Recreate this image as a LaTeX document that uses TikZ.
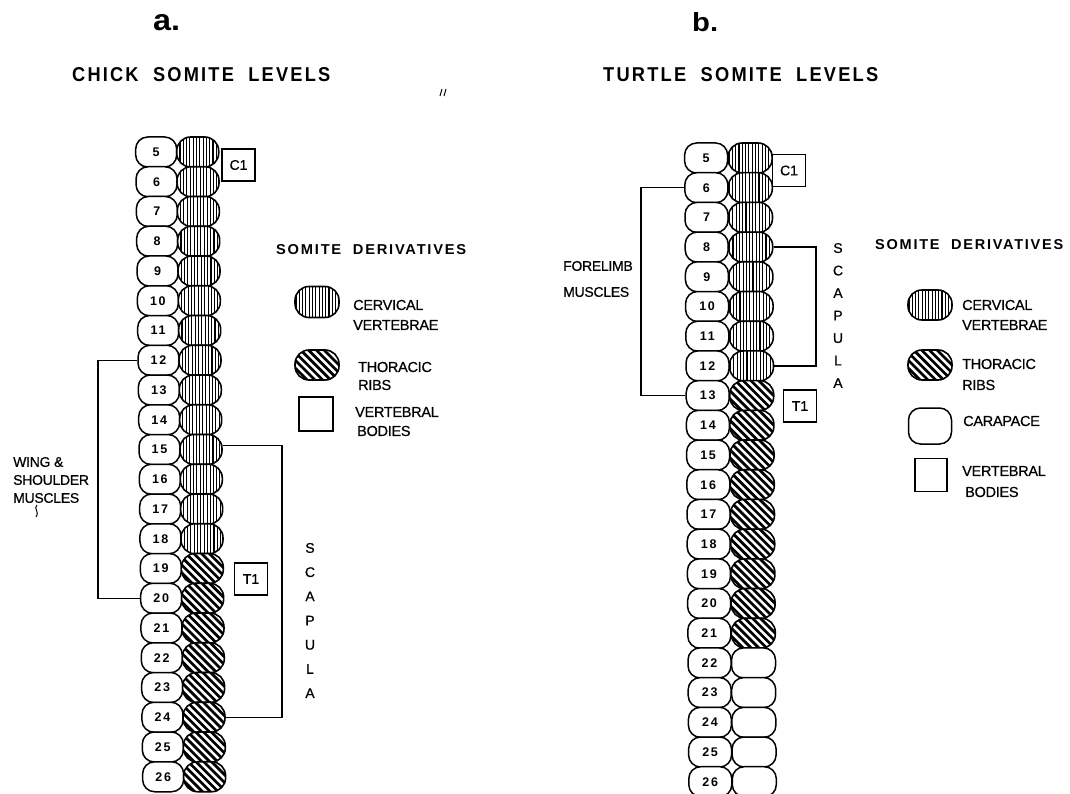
\documentclass[tikz,border=0pt]{standalone}
\usepackage{fontspec}
\usepackage{graphicx}
\setmainfont{Liberation Sans}
\newfontfamily\numfont[LetterSpace=14]{Liberation Sans}
\newfontfamily\labfont[LetterSpace=-2,FakeBold=0.6]{Liberation Sans}
\newfontfamily\plainfont[FakeBold=0.6]{Liberation Sans}
\newfontfamily\headfont[LetterSpace=12]{Liberation Sans}
\tikzset{
  ov/.style={draw, line width=1.5pt, rounded corners=12pt, minimum width=41pt, minimum height=30pt, inner sep=0pt, fill=white, font=\numfont\bfseries\fontsize{12.5}{12.5}\selectfont},
  hov/.style={draw, line width=1.6pt, rounded corners=14pt, minimum width=42pt, minimum height=30pt, inner sep=0pt, fill=white},
  cerv/.style={hov, path picture={\foreach \k in {-21,-17.7,...,21}{\draw[line width=1.05pt] (path picture bounding box.center) ++(\k,-20) -- ++(0,40);}}},
  thor/.style={hov, path picture={\foreach \k in {-56,-48.2,...,56}{\draw[line width=2.7pt] (path picture bounding box.center) ++(\k-25,-25) -- ++(50,50);}}},
  lbox/.style={draw, line width=1.2pt, minimum width=33pt, minimum height=32pt, inner sep=0pt, font=\plainfont\fontsize{14}{14}\selectfont},
  conn/.style={line width=1.3pt},
  lab/.style={anchor=west, inner sep=0pt, font=\labfont\fontsize{14.5}{14.5}\selectfont},
  txt/.style={inner sep=0pt},
}
\begin{document}
\begin{tikzpicture}[x=1pt,y=-1pt]
\useasboundingbox[fill=white] (0,0) rectangle (1070,794);

% ---------- panel a ----------
\node[txt,anchor=west] (la) at (153,23) {\resizebox{27pt}{16pt}{\bfseries a.}};
\node[txt,anchor=west] (ta) at (72,75) {\resizebox{258pt}{14pt}{\headfont\bfseries CHICK\ \ SOMITE\ \ LEVELS}};
\draw[line width=1pt] (442,89) -- (440,96) (446,89) -- (444,96);

\foreach \r in {5,...,26} {
  \pgfmathsetmacro\yy{152+(\r-5)*29.75}
  \pgfmathsetmacro\xx{156.2+(\r-5)*0.33}
  \node[ov] (cw\r) at (\xx,\yy) {\r};
}
\foreach \r in {5,...,18} {
  \pgfmathsetmacro\yy{152+(\r-5)*29.75}
  \pgfmathsetmacro\xx{197.7+(\r-5)*0.33}
  \node[cerv] (ch\r) at (\xx,\yy) {};
}
\foreach \r in {19,...,26} {
  \pgfmathsetmacro\yy{152+(\r-5)*29.75}
  \pgfmathsetmacro\xx{197.7+(\r-5)*0.33}
  \node[thor] (ch\r) at (\xx,\yy) {};
}
\node[lbox] (c1a) at (238.5,165) {C1};
\node[lbox] (t1a) at (251,579) {T1};

\coordinate (scx) at (282,0);
\draw[conn] ([yshift=4pt]ch15.east) -| (scx |- ch24.east) -- (ch24.east);
\node[txt, align=center, font=\plainfont\fontsize{14}{24.2}\selectfont] (sca) at (310,620.5) {S\\C\\A\\P\\U\\L\\A};

\coordinate (wingx) at (98,0);
\draw[conn] (cw12.west) -| (wingx |- cw20.west) -- (cw20.west);
\node[txt, anchor=west, align=left, font=\labfont\fontsize{14}{18}\selectfont] (wing) at (13,480) {WING \&\\SHOULDER\\MUSCLES};
\draw[line width=1pt] (37,505) .. controls (33,509) and (40,511) .. (36,517);

\node[txt,anchor=west] (sda) at (276,250) {\resizebox{190pt}{10pt}{\headfont\bfseries SOMITE\ \ DERIVATIVES}};
\node[cerv, minimum width=44pt, minimum height=31pt] (lca) at (317,302) {};
\node[lab] (lcat) at (353,305) {CERVICAL};
\node[lab] (lcab) at (353,325) {VERTEBRAE};
\node[thor, minimum width=44pt, minimum height=30pt] (lta) at (317,365) {};
\node[lab] (ltat) at (358,367) {THORACIC};
\node[lab] (ltab) at (358,385) {RIBS};
\node[lbox, minimum width=34pt, minimum height=34pt] (lva) at (316,414) {};
\node[lab] (lvat) at (355,412) {VERTEBRAL};
\node[lab] (lvab) at (357,431) {BODIES};

% ---------- panel b ----------
\node[txt,anchor=west] (lb) at (692,22) {\resizebox{26pt}{19pt}{\bfseries b.}};
\node[txt,anchor=west] (tb) at (603,75) {\resizebox{275pt}{14pt}{\headfont\bfseries TURTLE\ \ SOMITE\ \ LEVELS}};

\foreach \r in {5,...,26} {
  \pgfmathsetmacro\yy{158+(\r-5)*29.7}
  \pgfmathsetmacro\xx{706.1+(\r-5)*0.2}
  \node[ov, minimum width=43pt] (tw\r) at (\xx,\yy) {\r};
}
\foreach \r in {5,...,12} {
  \pgfmathsetmacro\yy{158+(\r-5)*29.7}
  \pgfmathsetmacro\xx{750.1+(\r-5)*0.2}
  \node[cerv, minimum width=44pt] (th\r) at (\xx,\yy) {};
}
\foreach \r in {13,...,21} {
  \pgfmathsetmacro\yy{158+(\r-5)*29.7}
  \pgfmathsetmacro\xx{750.1+(\r-5)*0.2}
  \node[thor, minimum width=44pt] (th\r) at (\xx,\yy) {};
}
\foreach \r in {22,...,26} {
  \pgfmathsetmacro\yy{158+(\r-5)*29.7}
  \pgfmathsetmacro\xx{750.1+(\r-5)*0.2}
  \node[ov, minimum width=44pt] (th\r) at (\xx,\yy) {};
}
\node[lbox] (c1b) at (789,170.5) {C1};
\node[lbox] (t1b) at (800,406) {T1};

\coordinate (flx) at (641,0);
\draw[conn] (tw6.west) -| (flx |- tw13.west) -- (tw13.west);
\node[txt, anchor=east, align=left, font=\labfont\fontsize{14}{26}\selectfont] (fore) at (633,279) {FORELIMB\\MUSCLES};

\coordinate (tsx) at (816,0);
\draw[conn] (th8.east) -| (tsx |- th12.east) -- (th12.east);
\node[txt, align=center, font=\plainfont\fontsize{14}{22.5}\selectfont] (scb) at (838,315.5) {S\\C\\A\\P\\U\\L\\A};

\node[txt,anchor=west] (sdb) at (875,245) {\resizebox{188pt}{10pt}{\headfont\bfseries SOMITE\ \ DERIVATIVES}};
\node[cerv, minimum width=44pt, minimum height=30pt] (lcb) at (930,305) {};
\node[lab] (lcbt) at (962,305) {CERVICAL};
\node[lab] (lcbb) at (962,325) {VERTEBRAE};
\node[thor, minimum width=44pt, minimum height=30pt] (ltb) at (930,365) {};
\node[lab] (ltbt) at (962,364) {THORACIC};
\node[lab] (ltbb) at (962,385) {RIBS};
\node[ov, minimum width=43pt, minimum height=36pt] (lkb) at (930,426) {};
\node[lab] (lkbt) at (963,421) {CARAPACE};
\node[lbox, minimum width=32pt, minimum height=33pt] (lvb) at (931,475) {};
\node[lab] (lvbt) at (962,471) {VERTEBRAL};
\node[lab] (lvbb) at (965,492) {BODIES};
\end{tikzpicture}
\end{document}
